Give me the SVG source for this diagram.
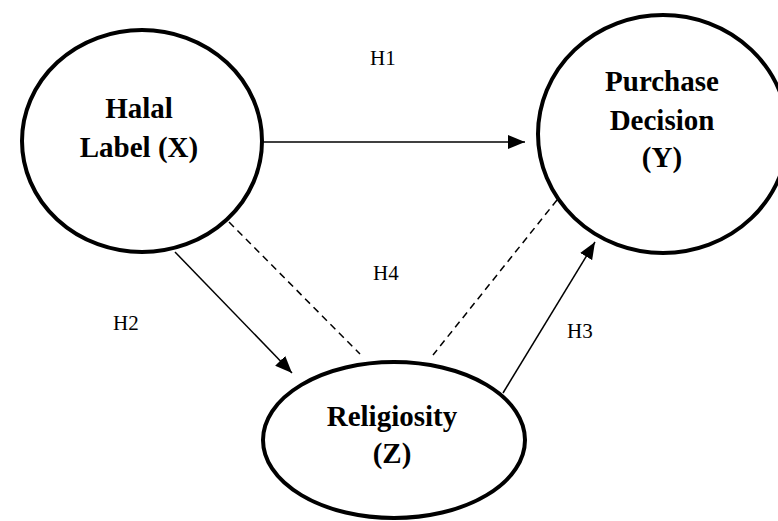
<svg xmlns="http://www.w3.org/2000/svg" width="778" height="521" viewBox="0 0 778 521">
<style>
.node{fill:#fff;stroke:#000;stroke-width:4}
.t{font-family:"Liberation Serif","Times New Roman",serif;font-weight:bold;font-size:29px;text-anchor:middle;fill:#000}
.lbl{font-family:"Liberation Serif","Times New Roman",serif;font-size:21px;fill:#000}
.c{stroke:#000;stroke-width:1.5;fill:none}
.d{stroke:#000;stroke-width:1.5;fill:none;stroke-dasharray:7 5}
</style>
<defs>
<marker id="ah" markerUnits="userSpaceOnUse" markerWidth="18" markerHeight="14" refX="17" refY="7" orient="auto">
<path d="M0,0 L17,7 L0,14 Z" fill="#000"/>
</marker>
</defs>
<rect width="778" height="521" fill="#fff"/>
<g id="connectors">
<line class="c" x1="263" y1="142" x2="525" y2="142" marker-end="url(#ah)"/>
<line class="c" x1="175" y1="252" x2="292" y2="373" marker-end="url(#ah)"/>
<line class="c" x1="503" y1="393" x2="595" y2="242" marker-end="url(#ah)"/>
<line class="d" x1="229" y1="222" x2="360" y2="354"/>
<line class="d" x1="557" y1="200" x2="433" y2="355"/>
</g>
<g id="halal">
<ellipse class="node" cx="142" cy="141" rx="120" ry="111"/>
<text class="t" x="139" y="118">Halal</text>
<text class="t" x="139" y="157">Label (X)</text>
</g>
<g id="purchase">
<ellipse class="node" cx="663" cy="134" rx="125" ry="119"/>
<text class="t" x="662" y="91">Purchase</text>
<text class="t" x="662" y="130">Decision</text>
<text class="t" x="662" y="167">(Y)</text>
</g>
<g id="religiosity">
<ellipse class="node" cx="394" cy="440" rx="131" ry="78"/>
<text class="t" x="392" y="426">Religiosity</text>
<text class="t" x="392" y="463">(Z)</text>
</g>
<g id="labels">
<text class="lbl" x="370" y="65">H1</text>
<text class="lbl" x="113" y="330">H2</text>
<text class="lbl" x="567" y="338">H3</text>
<text class="lbl" x="373" y="280">H4</text>
</g>
</svg>
